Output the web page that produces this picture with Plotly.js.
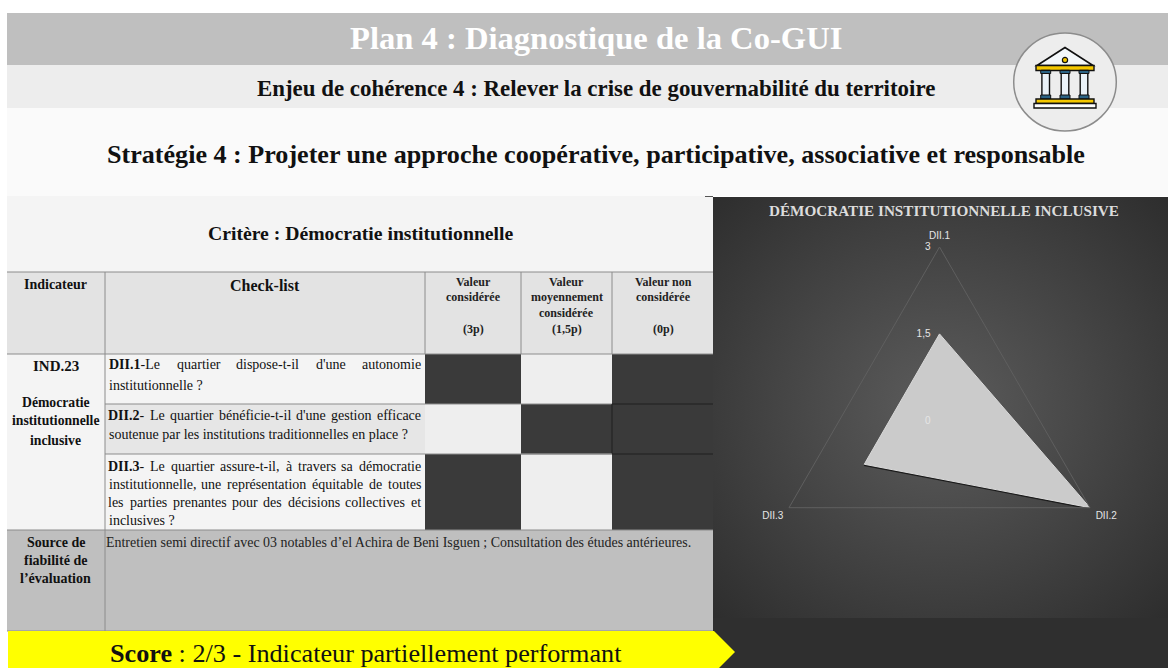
<!DOCTYPE html>
<html>
<head>
<meta charset="utf-8">
<script src="https://cdn.plot.ly/plotly-3.0.1.min.js"></script>
<style>html,body{margin:0;padding:0;background:#fff;overflow:hidden}#g{width:1168px;height:668px}</style>
</head>
<body>
<div id="g"></div>
<script>
const categories = ['DII.1', 'DII.2', 'DII.3'];
const scores = [1.5, 3, 1.5];
const radialTicks = [0, 1.5, 3];
const radialLabels = ['0', '1,5', '3'];
const chartTitle = 'DÉMOCRATIE INSTITUTIONNELLE INCLUSIVE';
const headerTitle = 'Plan 4 : Diagnostique de la Co-GUI';
const headerIssue = 'Enjeu de cohérence 4 : Relever la crise de gouvernabilité du territoire';
const headerStrategy = 'Stratégie 4 : Projeter une approche coopérative, participative, associative et responsable';
const criterion = 'Critère : Démocratie institutionnelle';
const sourceText = 'Entretien semi directif avec 03 notables d’el Achira de Beni Isguen ; Consultation des études antérieures.';
const scoreBold = 'Score';
const scoreRest = ' : 2/3 - Indicateur partiellement performant';

const SERIF = '"Liberation Serif","Times New Roman",serif';
const W = 1168, H = 668;
const px = x => x / W, py = y => 1 - y / H;
const shapes = [], annotations = [];

function rect(x0, y0, x1, y1, fill, line, lw) {
  shapes.push({type:'rect', xref:'paper', yref:'paper', x0:px(x0), x1:px(x1), y0:py(y0), y1:py(y1),
    fillcolor:fill, line:{color:line||fill, width:line?(lw||1):0}, layer:'below'});
}
function poly(pts, fill, line, lw) {
  const d = pts.map((p,i)=>(i?'L':'M')+px(p[0])+' '+py(p[1])).join(' ')+' Z';
  shapes.push({type:'path', xref:'paper', yref:'paper', path:d, fillcolor:fill,
    line:{color:line||fill, width:line?(lw||1):0}, layer:'below'});
}
function ell(cx, cy, rx, ry, fill, line, lw) {
  shapes.push({type:'circle', xref:'paper', yref:'paper', x0:px(cx-rx), x1:px(cx+rx), y0:py(cy+ry), y1:py(cy-ry),
    fillcolor:fill, line:{color:line, width:lw}, layer:'below'});
}
function seg(x0, y0, x1, y1, color, lw) {
  shapes.push({type:'line', xref:'paper', yref:'paper', x0:px(x0), x1:px(x1), y0:py(y0), y1:py(y1), line:{color, width:lw}, layer:'below'});
}
function txt(text, x, y, size, color, anchor, family) {
  annotations.push({text, x:px(x), y:py(y), xref:'paper', yref:'paper', showarrow:false,
    xanchor:anchor||'center', yanchor:'middle', borderpad:0,
    font:{family:family||SERIF, size, color}});
}
const cv = document.createElement('canvas').getContext('2d');
function measure(w, size) {
  const bold = /^<b>/.test(w);
  cv.font = (bold?'bold ':'') + size + 'px "Liberation Serif"';
  return cv.measureText(w.replace(/<[^>]+>/g,'')).width;
}
function justified(words, x0, x1, y, size, color) {
  const widths = words.map(w=>measure(w,size));
  const gap = (x1-x0-widths.reduce((a,b)=>a+b,0))/(words.length-1);
  let x = x0;
  words.forEach((w,i)=>{ txt(w, x, y, size, color, 'left'); x += widths[i]+gap; });
}

/* page bands */
rect(7,13,W,65,'#bfbfbf');
rect(7,65,W,108,'#ededed');
rect(7,108,W,196,'#fafafa');
rect(7,196,713,272,'#f4f4f4');
/* dark panel under chart */
rect(713,618,W,H,'#2f2f2f');
seg(705,196.5,713,196.5,'#555',1);

/* table */
const colX = [7,105,425,521,612,713];
const rowY = [272,354,404,454,530];
const GRID = '#8c8c8c';
for (let c=0;c<5;c++) rect(colX[c],rowY[0],colX[c+1],rowY[1],'#e3e3e3');
rect(colX[0],rowY[1],colX[1],rowY[4],'#f4f4f4');
rect(colX[1],rowY[1],colX[2],rowY[2],'#f4f4f4');
rect(colX[1],rowY[2],colX[2],rowY[3],'#e6e6e6');
rect(colX[1],rowY[3],colX[2],rowY[4],'#f4f4f4');
const DARK='#3a3a3a', LIGHT='#eeeeee';
const cellFill=[[DARK,LIGHT,DARK],[LIGHT,DARK,DARK],[DARK,LIGHT,DARK]];
cellFill.forEach((row,r)=>row.forEach((f,c)=>rect(colX[c+2],rowY[r+1],colX[c+3],rowY[r+2],f)));
rect(colX[0],rowY[4],colX[5],631,'#bfbfbf');
[[7,272,713],[7,354,713],[105,404,612],[105,454,612],[7,530,713],[7,631,713]].forEach(l=>seg(l[0],l[1],l[2],l[1],GRID,1));
[[105,272,631],[425,272,354],[521,272,354],[612,272,354]].forEach(l=>seg(l[0],l[1],l[0],l[2],GRID,1));
seg(612,404,713,404,'#1f1f1f',1);
seg(612,454,713,454,'#1f1f1f',1);
seg(612,404,612,454,'#1f1f1f',1);
seg(521,454,612,454,'#8a8a8a',1);

/* score arrow */
poly([[8,631],[714,631],[735,652],[719,668],[8,668]],'#ffff00');

/* icon */
ell(1065,82,51.3,49,'#ededed','#8c8c8c',1.5);
poly([[1065,47.5],[1037,65.5],[1093,65.5]],'#f4f8fb','#111111',1.6);
ell(1065,60,2.6,2.6,'#f5c800','#111111',1.2);
rect(1036,65.5,1094,70.5,'#f5c800','#111111',1.4);
[1045.7,1065,1084].forEach(cx=>{
  rect(cx-3.8,70.5,cx+3.8,97,'#eaf2f8','#111111',1.4);
  rect(cx-5,70.5,cx+5,73.5,'#2b6385','#111111',1);
  rect(cx-5,95,cx+5,99,'#2b6385','#111111',1);
});
rect(1036,99,1094,103.5,'#f5c800','#111111',1.4);
rect(1034,103.5,1096,108,'#ffffff','#111111',1.4);

/* header text */
txt('<b>'+headerTitle+'</b>',595.5,38,32.6,'#ffffff');
txt('<b>'+headerIssue+'</b>',595.5,88,22.9,'#111111');
txt('<b>'+headerStrategy+'</b>',596,154,26.1,'#111111');
txt('<b>'+criterion+'</b>',360.5,233,19.7,'#111111');
txt('<b>Indicateur</b>',55,284,14,'#111111');
txt('<b>Check-list</b>',265,285,16,'#111111');
const VH = 12;
[['Valeur',282],['considérée',297],['(3p)',329]].forEach(a=>txt('<b>'+a[0]+'</b>',473,a[1],VH,'#222'));
[['Valeur',282],['moyennement',297],['considérée',313],['(1,5p)',329]].forEach(a=>txt('<b>'+a[0]+'</b>',566.5,a[1],VH,'#222'));
[['Valeur non',282],['considérée',297],['(0p)',329]].forEach(a=>txt('<b>'+a[0]+'</b>',663.5,a[1],VH,'#222'));
[['IND.23',366,15],['Démocratie',402,13.7],['institutionnelle',420,13.7],['inclusive',440,13.7]].forEach(a=>txt('<b>'+a[0]+'</b>',55.5,a[1],a[2],'#111'));
[['Source de',542],['fiabilité de',560],['l’évaluation',578]].forEach(a=>txt('<b>'+a[0]+'</b>',55.5,a[1],14,'#111'));

/* check-list */
const X0=107.5, X1=420, TS=14, TC='#111';
justified(['<b>DII.1</b>-Le','quartier','dispose-t-il',"d'une",'autonomie'],X0,X1,365,TS,TC);
txt('institutionnelle ?',X0,385,TS,TC,'left');
justified(['<b>DII.2</b>-','Le','quartier','bénéficie-t-il',"d'une",'gestion','efficace'],X0,X1,415.5,TS,TC);
txt("soutenue par les institutions traditionnelles en place ?",X0,434.5,TS,TC,'left');
justified(['<b>DII.3</b>-','Le','quartier','assure-t-il,','à','travers','sa','démocratie'],X0,X1,466,TS,TC);
justified(['institutionnelle,','une','représentation','équitable','de','toutes'],X0,X1,484,TS,TC);
justified(['les','parties','prenantes','pour','des','décisions','collectives','et'],X0,X1,502,TS,TC);
txt('inclusives ?',X0,520,TS,TC,'left');
txt(sourceText,104.5,542,13.95,'#222','left');

/* score */
txt('<b>'+scoreBold+'</b>'+scoreRest,109,653,26.2,'#111','left');
/* chart title */
txt('<b>'+chartTitle+'</b>',944,211,15.2,'#dcdcdc');

const grad = 'data:image/svg+xml,' + encodeURIComponent(
 '<svg xmlns="http://www.w3.org/2000/svg" width="455" height="421" preserveAspectRatio="none">'+
 '<defs><radialGradient id="a" cx="0.5" cy="0.5" r="0.76"><stop offset="0" stop-color="#5c5c5c"/><stop offset="1" stop-color="#2a2a2a"/></radialGradient></defs>'+
 '<rect width="455" height="421" fill="url(#a)"/></svg>');

const closeT = categories.concat(categories[0]);
const closeR = scores.concat(scores[0]);
const traces = [
  {type:'scatterpolar', r:scores.slice(1), theta:categories.slice(1), mode:'lines', line:{color:'#1c1c1c', width:3.5}, hoverinfo:'skip', showlegend:false},
  {type:'scatterpolar', r:closeR, theta:closeT, mode:'lines', fill:'toself', fillcolor:'#cbcbcb', line:{color:'#dadada', width:1}, showlegend:false, name:'Score'}
];

const layout = {
  width:W, height:H, margin:{l:0,r:0,t:0,b:0}, showlegend:false,
  paper_bgcolor:'rgba(0,0,0,0)', plot_bgcolor:'rgba(0,0,0,0)',
  shapes, annotations,
  images:[{source:grad, xref:'paper', yref:'paper', x:px(713), y:py(197), sizex:455/W, sizey:421/H, sizing:'stretch', xanchor:'left', yanchor:'top', layer:'below'}],
  polar:{
    domain:{x:[px(939.5-173.8),px(939.5+173.8)], y:[py(420.8+173.8),py(420.8-173.8)]},
    bgcolor:'rgba(0,0,0,0)', gridshape:'linear',
    angularaxis:{direction:'clockwise', rotation:90, type:'category', categoryorder:'array', categoryarray:categories,
      showgrid:false, showline:true, linecolor:'#5f5f5f', linewidth:1, ticks:'outside', ticklen:4, tickcolor:'rgba(0,0,0,0)',
      tickfont:{family:'"Liberation Sans",Arial,sans-serif', size:10, color:'#e6e6e6'}},
    radialaxis:{range:[0,3], angle:90, side:'counterclockwise', tickvals:radialTicks, ticktext:radialLabels, tickmode:'array',
      showgrid:false, showline:false, ticks:'outside', ticklen:5, tickcolor:'rgba(0,0,0,0)', tickangle:90,
      tickfont:{family:'"Liberation Sans",Arial,sans-serif', size:10, color:'#e6e6e6'}}
  }
};
Plotly.newPlot('g', traces, layout, {displayModeBar:false, responsive:false});
</script>
</body>
</html>
